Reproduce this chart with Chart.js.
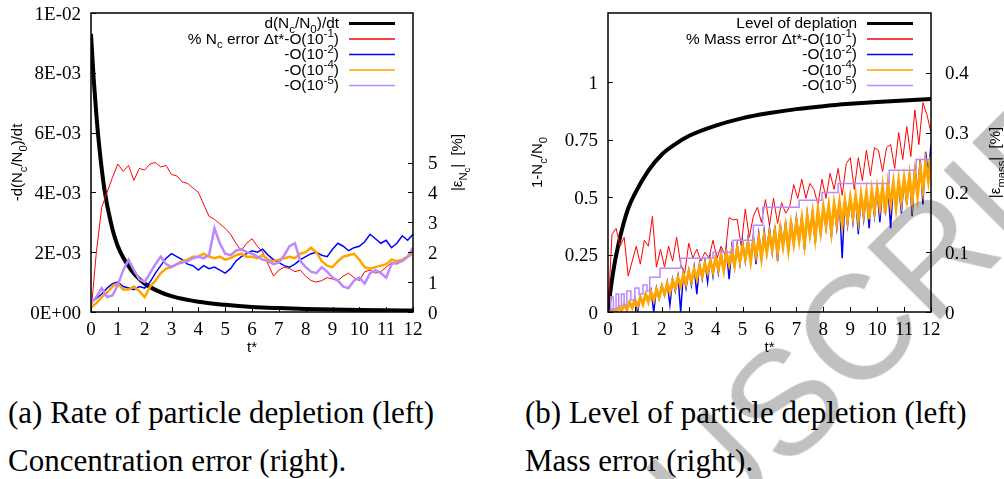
<!DOCTYPE html>
<html>
<head>
<meta charset="utf-8">
<script src="https://cdn.jsdelivr.net/npm/chart.js@4.4.0/dist/chart.umd.min.js"></script>
<style>
  html, body { margin: 0; padding: 0; overflow: hidden; background: #fff; }
  body { width: 1004px; height: 479px; position: relative; }
  canvas { position: absolute; top: 0; }
  #c1 { left: 0; }
  #c2 { left: 502px; }
  .cap { position: absolute; font-family: "Liberation Serif", serif; font-size: 31px; line-height: 1; white-space: nowrap; color: #000; }
  #wm { position: absolute; font-family: "Liberation Sans", sans-serif; font-size: 148px; line-height: 1; color: #c0c0c0;
        white-space: nowrap; transform-origin: 0 0; transform: rotate(-45deg); mix-blend-mode: multiply; }
</style>
</head>
<body>
<canvas id="c1" width="502" height="360"></canvas>
<canvas id="c2" width="502" height="360"></canvas>
<div class="cap" style="left:8px;top:397px">(a) Rate of particle depletion (left)</div>
<div class="cap" style="left:8px;top:445px">Concentration error (right).</div>
<div class="cap" style="left:525px;top:397px">(b) Level of particle depletion (left)</div>
<div class="cap" style="left:525px;top:445px">Mass error (right).</div>
<div id="wm">ACCEPTED MANUSCRIPT</div>
<script>
// ---- data ----

// x axis (t*) shared by both panels
const xTickVals = [0, 1, 2, 3, 4, 5, 6, 7, 8, 9, 10, 11, 12];
const xTickLabels = ['0', '1', '2', '3', '4', '5', '6', '7', '8', '9', '10', '11', '12'];

// (a) rate of depletion, left axis
const rateT = [0, 0.1, 0.2, 0.3, 0.5, 0.75, 1, 1.5, 2, 2.5, 3, 4, 5, 6, 7, 8, 9, 10, 11, 12];
const rateVals = [0.0093, 0.0078, 0.0066, 0.0056, 0.0041, 0.00295, 0.0022, 0.0014, 0.00095, 0.0007, 0.00053,
                  0.00034, 0.00024, 0.00017, 0.00013, 0.0001, 0.00008, 0.000065, 0.000055, 0.000047];
const rateTickVals = [0, 0.002, 0.004, 0.006, 0.008, 0.01];
const rateTickLabels = ['0E+00', '2E-03', '4E-03', '6E-03', '8E-03', '1E-02'];

// (a) concentration error [%], right axis, sampled every 0.2 t*
const stepA = 0.2;
const ncErr1 = [0, 2.0, 3.5, 4.0, 4.5, 4.95, 4.7, 4.9, 4.4, 4.8, 4.75, 4.95, 5.0, 4.85, 4.9, 4.6, 4.55, 4.35, 4.3, 4.15,
                4.0, 3.6, 3.2, 3.1, 2.95, 2.8, 2.6, 2.3, 2.05, 2.3, 2.45, 2.2, 2.0, 1.6, 1.2, 1.4, 1.5, 1.45, 1.35, 1.4,
                1.2, 1.05, 1.0, 1.05, 1.15, 1.1, 1.05, 1.2, 1.3, 1.15, 1.05, 1.35, 1.4, 1.3, 1.35, 1.5, 1.65, 1.6, 1.7, 1.85, 2.05];
const ncErr2 = [0.3, 0.45, 0.6, 0.8, 0.95, 1.0, 0.85, 0.8, 0.75, 0.85, 0.8, 1.0, 1.3, 1.55, 1.8, 1.95, 1.85, 1.75, 1.6, 1.55,
                1.4, 1.55, 1.45, 1.5, 1.4, 1.3, 1.45, 1.7, 1.85, 1.95, 2.05, 2.0, 2.1, 1.9, 1.75, 1.65, 1.55, 1.5, 1.6, 1.75,
                1.85, 1.95, 2.0, 1.9, 1.85, 2.1, 2.3, 2.2, 2.05, 2.15, 2.2, 2.35, 2.6, 2.45, 2.3, 2.4, 2.15, 2.3, 2.55, 2.4, 2.6];
const ncErr4 = [0.15, 0.3, 0.5, 0.65, 0.85, 0.95, 0.75, 0.75, 0.85, 0.7, 0.5, 0.85, 1.05, 1.3, 1.45, 1.5, 1.6, 1.7, 1.75, 1.85,
                1.85, 1.95, 1.85, 1.8, 1.85, 1.75, 1.8, 1.9, 1.95, 1.85, 1.85, 1.8, 1.9, 1.75, 1.7, 1.75, 1.8, 1.85, 1.8, 1.95,
                2.0, 2.15, 2.0, 1.7, 1.55, 1.5, 1.7, 1.85, 1.9, 1.95, 1.75, 1.5, 1.45, 1.5, 1.55, 1.6, 1.75, 1.7, 1.75, 1.85, 1.95];
const ncErr5 = [0.3, 0.5, 0.8, 0.5, 0.55, 0.9, 1.4, 1.75, 1.4, 1.1, 1.0, 1.3, 1.6, 1.85, 1.6, 1.5, 1.6, 1.65, 1.7, 1.8,
                1.85, 1.8, 1.9, 2.8, 2.3, 1.95, 1.9, 2.05, 2.1, 2.0, 1.95, 1.85, 1.75, 1.7, 1.6, 1.65, 1.9, 2.2, 2.3, 1.7,
                1.5, 1.35, 1.3, 1.5, 1.35, 1.15, 1.05, 0.85, 0.8, 1.05, 1.15, 0.95, 1.3, 1.4, 1.3, 1.15, 1.6, 1.65, 1.7, 1.85, 2.15];
const ncErrTickVals = [0, 1, 2, 3, 4, 5];
const ncErrTickLabels = ['0', '1', '2', '3', '4', '5'];

// (b) level of depletion, left axis
const depT = [0, 0.1, 0.2, 0.3, 0.5, 0.75, 1, 1.5, 2, 2.5, 3, 4, 5, 6, 7, 8, 9, 10, 11, 12];
const depVals = [0, 0.1, 0.18, 0.245, 0.35, 0.45, 0.515, 0.615, 0.685, 0.73, 0.765, 0.81, 0.843, 0.865, 0.882,
                 0.895, 0.905, 0.913, 0.92, 0.926];
const depTickVals = [0, 0.25, 0.5, 0.75, 1];
const depTickLabels = ['0', '0.25', '0.5', '0.75', '1'];

// (b) mass error [%], right axis
const stepRed = 0.15;
const massErr1 = [0, 0.13, 0.14, 0.11, 0.125, 0.06, 0.085, 0.11, 0.08, 0.12, 0.11, 0.16, 0.075, 0.105, 0.075, 0.11, 0.085,
                  0.125, 0.08, 0.065, 0.115, 0.09, 0.105, 0.085, 0.1, 0.09, 0.12, 0.09, 0.11, 0.095, 0.158, 0.154, 0.155,
                  0.11, 0.172, 0.125, 0.16, 0.175, 0.15, 0.188, 0.145, 0.19, 0.148, 0.183, 0.165, 0.176, 0.213, 0.19, 0.222,
                  0.19, 0.215, 0.205, 0.18, 0.222, 0.19, 0.232, 0.205, 0.24, 0.195, 0.248, 0.258, 0.205, 0.258, 0.22, 0.27,
                  0.228, 0.275, 0.27, 0.235, 0.275, 0.28, 0.24, 0.3, 0.255, 0.31, 0.26, 0.338, 0.28, 0.35, 0.33, 0.3];
const stepB = 0.1;
const massErr2 = [0, 0.004, 0.005, 0.0, 0.009, 0.003, 0.013, 0.005, 0.018, 0.008,
                  0.022, 0.0, 0.026, 0.012, 0.031, 0.018, 0.036, 0.0, 0.04, 0.022,
                  0.045, 0.028, 0.05, 0.012, 0.055, 0.035, 0.06, 0.0, 0.065, 0.04,
                  0.07, 0.045, 0.075, 0.03, 0.08, 0.055, 0.085, 0.05, 0.09, 0.06,
                  0.095, 0.065, 0.1, 0.07, 0.104, 0.055, 0.109, 0.075, 0.113, 0.08,
                  0.118, 0.085, 0.122, 0.09, 0.127, 0.08, 0.131, 0.095, 0.136, 0.1,
                  0.14, 0.1, 0.144, 0.085, 0.147, 0.11, 0.151, 0.1, 0.154, 0.115,
                  0.158, 0.12, 0.161, 0.105, 0.165, 0.13, 0.168, 0.115, 0.172, 0.13,
                  0.175, 0.14, 0.178, 0.125, 0.181, 0.14, 0.184, 0.09, 0.187, 0.145,
                  0.19, 0.15, 0.193, 0.13, 0.196, 0.155, 0.199, 0.14, 0.202, 0.16,
                  0.205, 0.15, 0.208, 0.17, 0.211, 0.14, 0.215, 0.175, 0.218, 0.165,
                  0.222, 0.18, 0.232, 0.16, 0.245, 0.2, 0.255, 0.18, 0.268, 0.23,
                  0.28];
const massErr4 = [0, 0.0, 0.004, 0.0, 0.008, 0.002, 0.012, 0.004, 0.016, 0.007,
                  0.02, 0.01, 0.024, 0.013, 0.029, 0.017, 0.033, 0.02, 0.037, 0.025,
                  0.042, 0.03, 0.047, 0.033, 0.052, 0.04, 0.057, 0.043, 0.062, 0.048,
                  0.067, 0.052, 0.071, 0.056, 0.076, 0.06, 0.08, 0.066, 0.085, 0.068,
                  0.09, 0.072, 0.094, 0.07, 0.098, 0.08, 0.102, 0.078, 0.106, 0.085,
                  0.11, 0.09, 0.114, 0.085, 0.118, 0.095, 0.122, 0.09, 0.126, 0.1,
                  0.13, 0.105, 0.134, 0.1, 0.138, 0.11, 0.142, 0.105, 0.146, 0.115,
                  0.15, 0.12, 0.155, 0.115, 0.16, 0.13, 0.165, 0.125, 0.17, 0.135,
                  0.174, 0.145, 0.177, 0.135, 0.18, 0.15, 0.183, 0.145, 0.186, 0.155,
                  0.19, 0.16, 0.193, 0.155, 0.196, 0.165, 0.199, 0.155, 0.202, 0.17,
                  0.206, 0.175, 0.209, 0.165, 0.213, 0.18, 0.216, 0.175, 0.219, 0.185,
                  0.223, 0.19, 0.227, 0.185, 0.232, 0.195, 0.24, 0.205, 0.25, 0.22,
                  0.26];
// finest step: a staircase, given at its change points
const massErr5T = [0, 0.1, 0.2, 0.3, 0.4, 0.5, 0.6, 0.7, 0.85, 1.0, 1.15, 1.3, 1.45, 1.55, 1.93, 2.7, 3.9, 4.65, 5.4,
                   5.75, 7.1, 7.95, 8.55, 10.45, 11.45, 12];
const massErr5 = [0, 0.025, 0.005, 0.03, 0.01, 0.03, 0.012, 0.035, 0.02, 0.04, 0.03, 0.045, 0.035, 0.058, 0.073, 0.09,
                  0.1, 0.12, 0.145, 0.175, 0.187, 0.2, 0.215, 0.237, 0.255, 0.255];
const massTickVals = [0, 0.1, 0.2, 0.3, 0.4];
const massTickLabels = ['0', '0.1', '0.2', '0.3', '0.4'];

// texts with sub/superscripts: [text, level]  (0 normal, 1 sup, -1 sub, -2 sub of sub)
const titleT = [['t*', 0]];
const titleRate = [['-d(N', 0], ['c', -1], ['/N', 0], ['0', -1], [')/dt', 0]];
const titleNcErr = [['|ε', 0], ['N', -1], ['c', -2], ['|  [%]', 0]];
const titleDep = [['1-N', 0], ['c', -1], ['/N', 0], ['0', -1]];
const titleMassErr = [['|ε', 0], ['mass', -1], ['|  [%]', 0]];
const legendA = [
  [['d(N', 0], ['c', -1], ['/N', 0], ['0', -1], [')/dt', 0]],
  [['% N', 0], ['c', -1], [' error Δt*-O(10', 0], ['-1', 1], [')', 0]],
  [['-O(10', 0], ['-2', 1], [')', 0]],
  [['-O(10', 0], ['-4', 1], [')', 0]],
  [['-O(10', 0], ['-5', 1], [')', 0]]
];
const legendB = [
  [['Level of deplation', 0]],
  [['% Mass error Δt*-O(10', 0], ['-1', 1], [')', 0]],
  [['-O(10', 0], ['-2', 1], [')', 0]],
  [['-O(10', 0], ['-4', 1], [')', 0]],
  [['-O(10', 0], ['-5', 1], [')', 0]]
];

// ---- helpers ----
Chart.defaults.animation = false;
Chart.defaults.color = '#000';

const SERIF_FONT = '19px "Liberation Serif"';
const SANS = '"Liberation Sans"';
const LEVELS = { '0': [1, 0], '1': [0.75, -0.42], '-1': [0.75, 0.3], '-2': [0.6, 0.5] };

function drawRich(ctx, parts, x, y, align, size) {
  let w = 0;
  const segs = parts.map(([txt, lv]) => {
    const [k, dy] = LEVELS[lv];
    const font = (size * k) + 'px ' + SANS;
    ctx.font = font;
    const sw = ctx.measureText(txt).width;
    w += sw;
    return { txt, font, dy: dy * size, sw };
  });
  let cx = align === 'right' ? x - w : align === 'center' ? x - w / 2 : x;
  ctx.textAlign = 'left';
  ctx.textBaseline = 'alphabetic';
  ctx.fillStyle = '#000';
  segs.forEach(s => {
    ctx.font = s.font;
    ctx.fillText(s.txt, cx, y + s.dy);
    cx += s.sw;
  });
}

function pts(xs, ys) {
  return ys.map((y, i) => ({ x: xs[i], y: y }));
}
function grid(step, ys) {
  return ys.map((y, i) => ({ x: +(i * step).toFixed(3), y: y }));
}
function fixedTicks(vals) {
  return scale => { scale.ticks = vals.map(v => ({ value: v })); };
}

// gnuplot style frame, inward ticks, tick labels, legend and axis titles
const framePlugin = {
  id: 'frame',
  afterDraw(chart, args, o) {
    const { ctx, chartArea: a, scales } = chart;
    ctx.save();
    ctx.strokeStyle = '#000';
    ctx.lineWidth = 1;
    ctx.beginPath();
    scales.x.ticks.forEach(t => {
      const p = Math.round(scales.x.getPixelForValue(t.value)) + 0.5;
      ctx.moveTo(p, a.bottom); ctx.lineTo(p, a.bottom - 5);
    });
    scales.y.ticks.forEach(t => {
      const p = Math.round(scales.y.getPixelForValue(t.value)) + 0.5;
      ctx.moveTo(a.left, p); ctx.lineTo(a.left + 5, p);
    });
    scales.y2.ticks.forEach(t => {
      const p = Math.round(scales.y2.getPixelForValue(t.value)) + 0.5;
      ctx.moveTo(a.right, p); ctx.lineTo(a.right - 5, p);
    });
    ctx.stroke();
    ctx.lineWidth = 1.5;
    ctx.strokeRect(a.left, a.top, a.right - a.left, a.bottom - a.top);

    // tick labels
    ctx.fillStyle = '#000';
    ctx.font = SERIF_FONT;
    ctx.textBaseline = 'alphabetic';
    ctx.textAlign = 'center';
    scales.x.ticks.forEach((t, i) => ctx.fillText(o.xLabels[i], scales.x.getPixelForValue(t.value), a.bottom + 23));
    ctx.textAlign = 'right';
    scales.y.ticks.forEach((t, i) => ctx.fillText(o.yLabels[i], a.left - 10, scales.y.getPixelForValue(t.value) + 6.5));
    ctx.textAlign = 'left';
    scales.y2.ticks.forEach((t, i) => ctx.fillText(o.y2Labels[i], a.right + o.y2Pad, scales.y2.getPixelForValue(t.value) + 6.5));

    // legend, samples on the right of the text
    const ds = chart.data.datasets;
    o.legend.forEach((parts, i) => {
      const yc = o.legendY + i * o.legendGap;
      drawRich(ctx, parts, o.legendX, yc + 5, 'right', o.legendSize);
      ctx.strokeStyle = ds[i].borderColor;
      ctx.lineWidth = i === 0 ? 3 : 1.5;
      ctx.beginPath();
      ctx.moveTo(o.legendX + 10, yc + 0.5);
      ctx.lineTo(o.legendX + 56, yc + 0.5);
      ctx.stroke();
    });

    // axis titles
    const midY = (a.top + a.bottom) / 2;
    const rotated = (parts, cx) => {
      ctx.save();
      ctx.translate(cx, midY);
      ctx.rotate(-Math.PI / 2);
      drawRich(ctx, parts, 0, 5, 'center', o.titleSize);
      ctx.restore();
    };
    rotated(o.yTitle, o.yTitleX);
    rotated(o.y2Title, o.y2TitleX);
    drawRich(ctx, o.xTitle, (a.left + a.right) / 2, o.xTitleY, 'center', o.titleSize);
    ctx.restore();
  }
};

function axis(pos, min, max, vals, size) {
  return {
    type: 'linear', position: pos, min: min, max: max,
    afterBuildTicks: fixedTicks(vals),
    afterFit: s => { if (pos === 'bottom') s.height = size; else s.width = size; },
    grid: { display: false },
    border: { display: false },
    ticks: { display: false }
  };
}

function makeChart(id, datasets, scales, frame) {
  return new Chart(document.getElementById(id), {
    type: 'line',
    data: { datasets: datasets },
    options: {
      responsive: false,
      devicePixelRatio: 1,
      layout: { padding: { top: 13 } },
      elements: { point: { radius: 0 }, line: { tension: 0 } },
      scales: scales,
      plugins: { legend: { display: false }, tooltip: { enabled: false }, frame: frame }
    },
    plugins: [framePlugin]
  });
}

// ---- (a) ----
makeChart('c1', [
  { data: pts(rateT, rateVals), borderColor: '#000000', borderWidth: 4, yAxisID: 'y', order: 5, cubicInterpolationMode: 'monotone' },
  { data: grid(stepA, ncErr1), borderColor: '#ff0000', borderWidth: 1, yAxisID: 'y2', order: 4 },
  { data: grid(stepA, ncErr2), borderColor: '#0000ff', borderWidth: 1.5, yAxisID: 'y2', order: 3 },
  { data: grid(stepA, ncErr4), borderColor: '#ffa500', borderWidth: 2.5, yAxisID: 'y2', order: 2 },
  { data: grid(stepA, ncErr5), borderColor: '#bb88ff', borderWidth: 2.5, yAxisID: 'y2', order: 1 }
], {
  x: axis('bottom', 0, 12, xTickVals, 48),
  y: axis('left', 0, 0.01, rateTickVals, 91),
  y2: axis('right', 0, 10, ncErrTickVals, 89)
}, {
  xLabels: xTickLabels, yLabels: rateTickLabels, y2Labels: ncErrTickLabels, y2Pad: 15,
  legend: legendA, legendX: 339, legendY: 23, legendGap: 15.5, legendSize: 15.4,
  titleSize: 15, yTitle: titleRate, yTitleX: 17, y2Title: titleNcErr, y2TitleX: 457,
  xTitle: titleT, xTitleY: 352
});

// ---- (b) ----
makeChart('c2', [
  { data: pts(depT, depVals), borderColor: '#000000', borderWidth: 4, yAxisID: 'y', order: 5, cubicInterpolationMode: 'monotone' },
  { data: grid(stepRed, massErr1), borderColor: '#ff0000', borderWidth: 1, yAxisID: 'y2', order: 4 },
  { data: grid(stepB, massErr2), borderColor: '#0000ff', borderWidth: 1.5, yAxisID: 'y2', order: 3 },
  { data: grid(stepB, massErr4), borderColor: '#ffa500', borderWidth: 3, yAxisID: 'y2', order: 2 },
  { data: pts(massErr5T, massErr5), borderColor: '#bb88ff', borderWidth: 1.5, yAxisID: 'y2', order: 1, stepped: true }
], {
  x: axis('bottom', 0, 12, xTickVals, 48),
  y: axis('left', 0, 1.3, depTickVals, 106),
  y2: axis('right', 0, 0.5, massTickVals, 73)
}, {
  xLabels: xTickLabels, yLabels: depTickLabels, y2Labels: massTickLabels, y2Pad: 14,
  legend: legendB, legendX: 355, legendY: 23, legendGap: 15.5, legendSize: 15.4,
  titleSize: 15, yTitle: titleDep, yTitleX: 35, y2Title: titleMassErr, y2TitleX: 493,
  xTitle: titleT, xTitleY: 352
});

// ---- watermark, placed along the diagonal so that it ends past the top right corner ----
const wm = document.getElementById('wm');
const mctx = document.createElement('canvas').getContext('2d');
mctx.font = '148px "Liberation Sans"';
const wmW = mctx.measureText(wm.textContent).width;
const k = Math.SQRT1_2, wmEnd = [1169, 90], wmAsc = 125;
const sx = wmEnd[0] - wmW * k, sy = wmEnd[1] + wmW * k;
wm.style.left = (sx - wmAsc * k) + 'px';
wm.style.top = (sy - wmAsc * k) + 'px';
</script>
</body>
</html>
